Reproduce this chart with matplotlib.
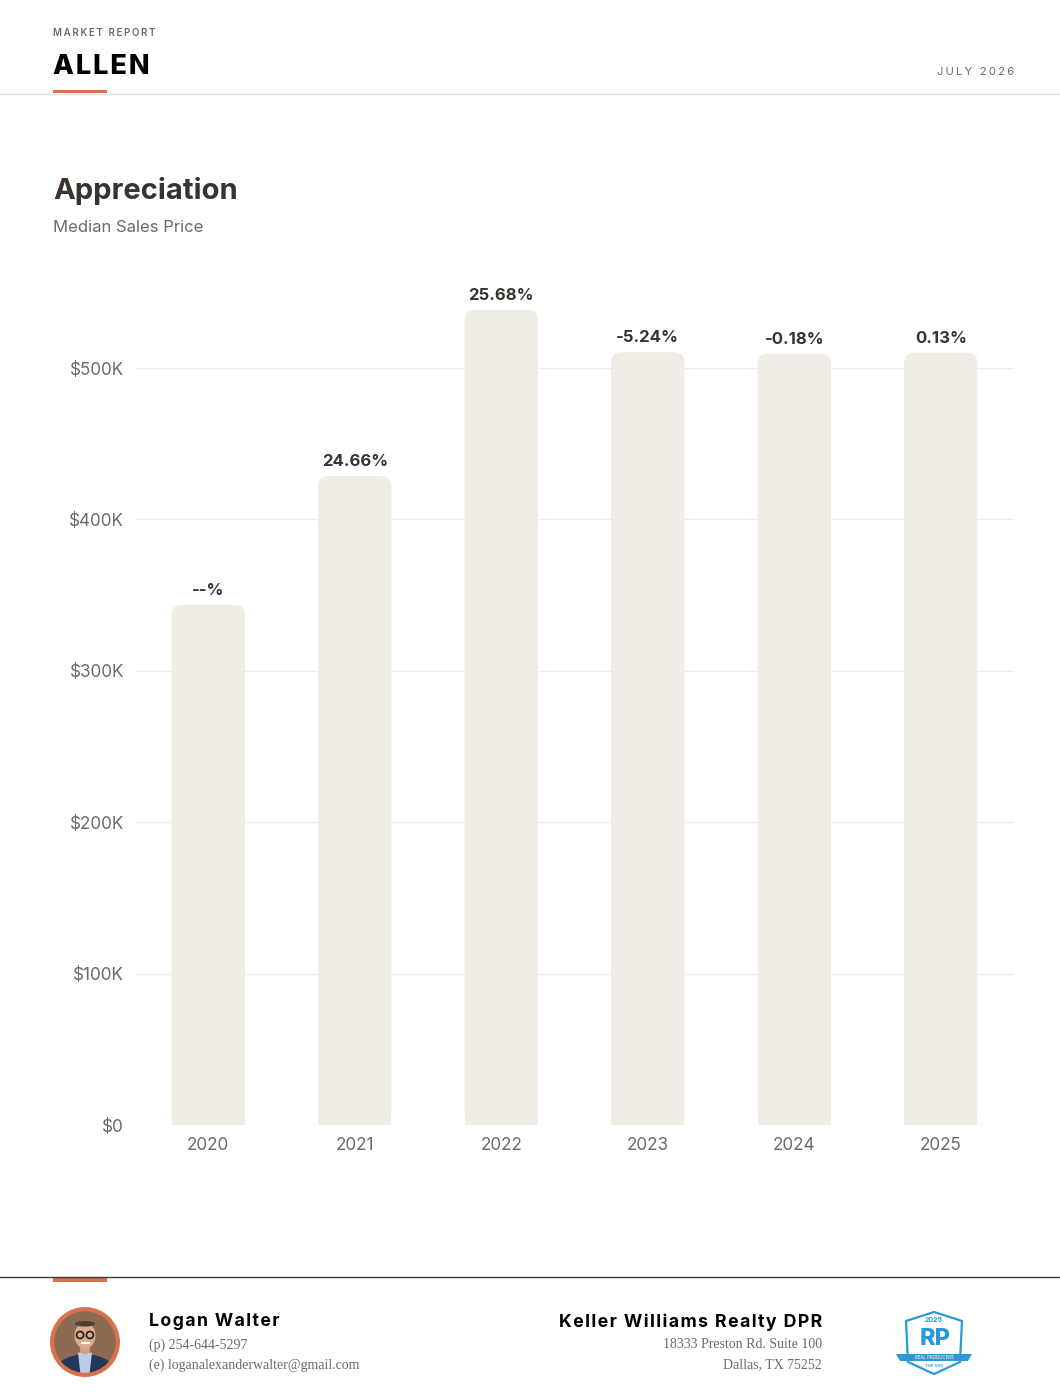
import numpy as np
import matplotlib
matplotlib.use("Agg")
import matplotlib.pyplot as plt
from matplotlib.patches import FancyBboxPatch, Circle, Polygon, Rectangle, Ellipse
from matplotlib.lines import Line2D

# data
years = ["2020", "2021", "2022", "2023", "2024", "2025"]
median_price = [343500, 428700, 538500, 510400, 509500, 510100]
change_labels = ["--%", "24.66%", "25.68%", "-5.24%", "-0.18%", "0.13%"]
y_ticks = [0, 100000, 200000, 300000, 400000, 500000]
y_tick_labels = ["$0", "$100K", "$200K", "$300K", "$400K", "$500K"]

W, H = 1060, 1400
BAR = "#f0ede6"
ORANGE = "#d9714f"
DARK = "#3a332b"
GRAY = "#6e6a64"

plt.rcParams['font.family'] = ['Inter', 'DejaVu Sans']

fig = plt.figure(figsize=(W / 100, H / 100), dpi=100)
fig.patch.set_facecolor("white")


def fx(px):
    return px / W


def fy(py):
    return 1 - py / H


def spaced(s, gap="\u200a"):
    # crude letter spacing
    return gap.join(s)


# ---- header
fig.text(fx(53), fy(33), spaced("MARKET REPORT", "\u2009"), fontsize=7, color=GRAY,
         va="center", ha="left", fontweight="semibold")
fig.text(fx(53), fy(66.5), spaced("ALLEN"), fontsize=19.5, fontweight="heavy", color="black",
         va="center", ha="left")
fig.text(fx(1014), fy(72), spaced("JULY 2026", "\u2009"), fontsize=8.2, color=GRAY,
         va="center", ha="right")
fig.add_artist(Line2D([0, 1], [fy(93.5), fy(93.5)], color="#e2e2e2", lw=1))
fig.add_artist(Rectangle((fx(53), fy(93)), fx(54), 3.5 / H, color=ORANGE, lw=0))

fig.text(fx(53), fy(191), "Appreciation", fontsize=21, fontweight="bold", color=DARK,
         va="center", ha="left")
fig.text(fx(53), fy(228), "Median Sales Price", fontsize=12, color=GRAY,
         va="center", ha="left")

# ---- chart
ymax = 560000
px_per_dollar = 757 / 500000
ax_top = 1125 - ymax * px_per_dollar
ax = fig.add_axes([fx(135), fy(1125), fx(1014 - 135), (1125 - ax_top) / H])
ax.set_xlim(-0.5, len(years) - 0.5)
ax.set_ylim(0, ymax)
ax.set_facecolor("none")
for s in ax.spines.values():
    s.set_visible(False)
ax.set_yticks(y_ticks)
ax.set_yticklabels(y_tick_labels)
ax.set_xticks(range(len(years)))
ax.set_xticklabels(years)
ax.tick_params(axis="both", length=0, labelsize=12.3, labelcolor=GRAY)
ax.tick_params(axis="y", pad=8)
ax.tick_params(axis="x", pad=9)
ax.grid(axis="y", color="#ececec", lw=1)
ax.set_axisbelow(True)

x = np.arange(len(years))
vals = np.array(median_price, dtype=float)
bw = 0.5
px_per_x = 879 / len(years)
r_px = 10
r_x = r_px / px_per_x
aspect = px_per_x / px_per_dollar
r_y = r_x * aspect
ax.bar(x, vals - r_y, width=bw, color=BAR, zorder=2)
for xi, v, lab in zip(x, vals, change_labels):
    ax.add_patch(FancyBboxPatch((xi - bw / 2, 0), bw, v,
                                boxstyle=f"round,pad=0,rounding_size={r_x}",
                                mutation_aspect=aspect, fc=BAR, ec="none", zorder=2))
    ax.annotate(lab, (xi, v), xytext=(0, 5), textcoords="offset points",
                ha="center", va="bottom", fontsize=12, fontweight="bold", color=DARK)

# ---- footer
fig.add_artist(Line2D([0, 1], [fy(1277), fy(1277)], color="#3a3a3a", lw=1))
fig.add_artist(Rectangle((fx(53), fy(1281.5)), fx(54), 4 / H, color=ORANGE, lw=0))

# photo (stylised)
pax = fig.add_axes([fx(50), fy(1377), fx(70), 70 / H])
pax.set_xlim(-1, 1)
pax.set_ylim(-1, 1)
pax.set_aspect("equal")
pax.axis("off")
clip = Circle((0, 0), 0.92, transform=pax.transData)
bg = Rectangle((-1, -1), 2, 2, fc="#8d6b52")
pax.add_patch(bg)
bg.set_clip_path(clip)
jacket = Ellipse((0, -1.0), 1.9, 1.3, fc="#22375a")
pax.add_patch(jacket)
jacket.set_clip_path(clip)
shirt = Polygon([[-0.2, -0.3], [0.2, -0.3], [0.12, -1], [-0.12, -1]], fc="#b9cde6")
pax.add_patch(shirt)
shirt.set_clip_path(clip)
pax.add_patch(Ellipse((0, -0.2), 0.3, 0.3, fc="#d4a083"))
pax.add_patch(Ellipse((0, 0.18), 0.6, 0.74, fc="#dcaa8c"))
pax.add_patch(Ellipse((0, 0.52), 0.58, 0.16, fc="#4e3f36"))
pax.add_patch(Circle((-0.14, 0.2), 0.1, fc="none", ec="#1e1e1e", lw=1.2))
pax.add_patch(Circle((0.14, 0.2), 0.1, fc="none", ec="#1e1e1e", lw=1.2))
pax.plot([-0.1, 0.1], [-0.03, -0.03], color="white", lw=1.5)
pax.add_patch(Circle((0, 0), 0.94, fc="none", ec=ORANGE, lw=3))

fig.text(fx(149), fy(1322), spaced("Logan Walter"), fontsize=12.7,
         fontweight="bold", color="black", va="center", ha="left")
fig.text(fx(149), fy(1345), "(p) 254-644-5297", fontsize=10, color=GRAY,
         family="Liberation Serif", va="center", ha="left")
fig.text(fx(149), fy(1365), "(e) loganalexanderwalter@gmail.com", fontsize=10,
         color=GRAY, family="Liberation Serif", va="center", ha="left")

fig.text(fx(822), fy(1322), spaced("Keller Williams Realty DPR"), fontsize=12.8,
         fontweight="bold", color="black", va="center", ha="right")
fig.text(fx(822), fy(1345), "18333 Preston Rd. Suite 100", fontsize=10, color=GRAY,
         family="Liberation Serif", va="center", ha="right")
fig.text(fx(822), fy(1365), "Dallas, TX 75252", fontsize=10, color=GRAY,
         family="Liberation Serif", va="center", ha="right")

# badge (stylised)
BLUE = "#2a9ad6"
lax = fig.add_axes([fx(894), fy(1376), fx(80), 66 / H])
lax.set_xlim(0, 80)
lax.set_ylim(0, 66)
lax.axis("off")
shield = [[12, 55], [40, 64], [68, 55], [66, 14], [40, 2], [14, 14]]
lax.add_patch(Polygon(shield, closed=True, fc="white", ec=BLUE, lw=1.6))
lax.text(40, 56, "2025", fontsize=5, fontweight="bold", color=BLUE, ha="center", va="center")
lax.text(41, 37, "RP", fontsize=17, fontweight="heavy", color=BLUE, ha="center", va="center")
lax.add_patch(Polygon([[2, 22], [78, 22], [74, 15], [6, 15]], closed=True, fc=BLUE, ec="none"))
lax.text(40, 18.5, "REAL PRODUCERS", fontsize=3.2, color="white", ha="center", va="center")
lax.text(40, 10, "TOP 500", fontsize=3, fontweight="bold", color=BLUE, ha="center", va="center")

fig.savefig("out.png", dpi=100, facecolor="white")
